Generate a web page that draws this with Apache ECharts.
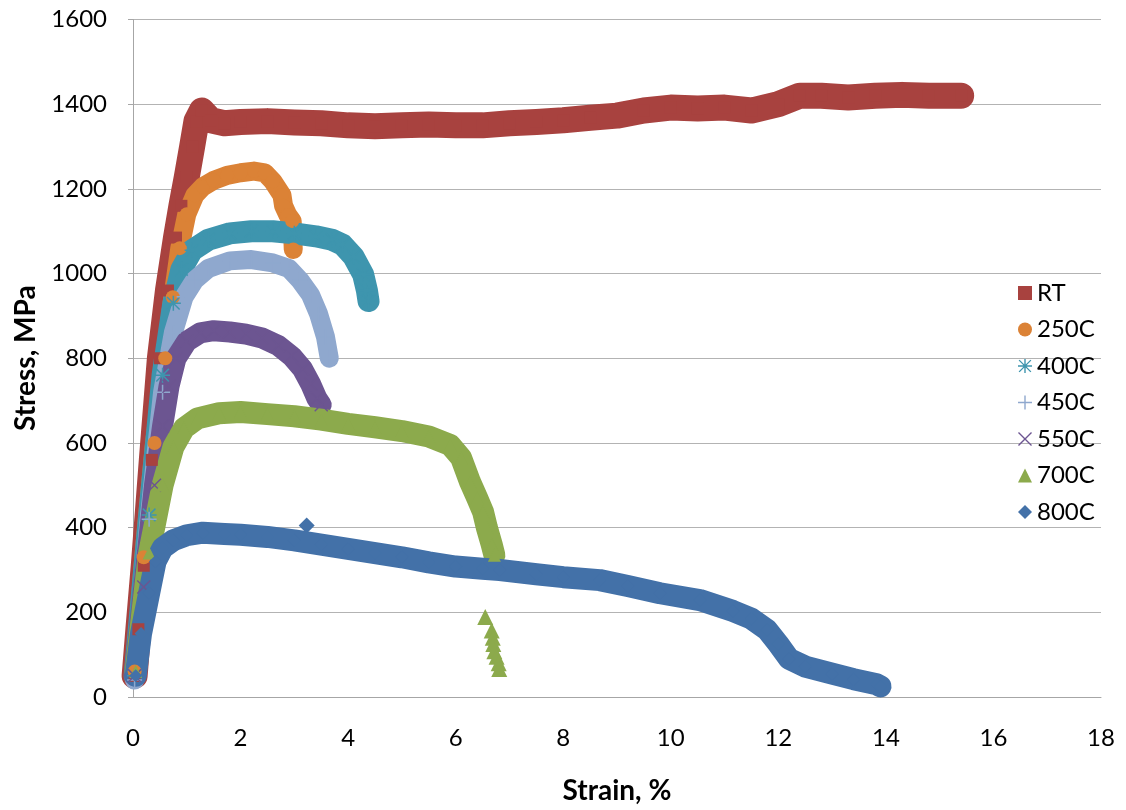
<!DOCTYPE html>
<html>
<head>
<meta charset="utf-8">
<script src="https://cdn.jsdelivr.net/npm/echarts@6/dist/echarts.min.js"></script>
<style>
  html, body { margin: 0; padding: 0; background: #fff; }
  #chart { width: 1126px; height: 810px; }
</style>
</head>
<body>
<div id="chart"></div>
<script>
// Tensile curves: [strain %, stress MPa]
const seriesNames = ['RT', '250C', '400C', '450C', '550C', '700C', '800C'];

const dataRT = [
  [0.03, 50], [0.1, 160], [0.2, 310], [0.35, 560], [0.5, 800], [0.65, 960], [0.8, 1085],
  [0.9, 1160], [1.0, 1228], [1.1, 1300], [1.18, 1360], [1.28, 1385], [1.45, 1362],
  [1.7, 1355], [2.0, 1358], [2.5, 1360], [3.0, 1357], [3.5, 1355], [4.0, 1350],
  [4.5, 1348], [5.0, 1350], [5.5, 1352], [6.0, 1350], [6.5, 1350], [7.0, 1355],
  [7.5, 1358], [8.0, 1362], [8.5, 1368], [9.0, 1373], [9.5, 1385], [10.0, 1392],
  [10.5, 1390], [11.0, 1392], [11.5, 1385], [12.0, 1400], [12.4, 1420], [12.8, 1420],
  [13.3, 1416], [13.8, 1420], [14.3, 1422], [14.8, 1420], [15.4, 1420]
];

const data250C = [
  [0.03, 60], [0.2, 330], [0.4, 600], [0.6, 800], [0.74, 944], [0.87, 1060], [1.0, 1140],
  [1.15, 1185], [1.3, 1205], [1.5, 1220], [1.75, 1232], [2.0, 1238], [2.25, 1242],
  [2.45, 1238], [2.6, 1218], [2.77, 1185], [2.8, 1160], [2.88, 1138], [2.96, 1124],
  [2.98, 1057]
];

const data400C = [
  [0.03, 50], [0.3, 430], [0.55, 760], [0.75, 930], [0.9, 1010], [1.1, 1055], [1.4, 1080],
  [1.8, 1095], [2.2, 1100], [2.6, 1100], [3.0, 1095], [3.4, 1088], [3.7, 1080],
  [3.9, 1068], [4.1, 1040], [4.28, 998], [4.35, 960], [4.38, 935]
];

const data450C = [
  [0.03, 40], [0.3, 420], [0.55, 720], [0.75, 860], [0.95, 945], [1.15, 985], [1.4, 1012],
  [1.8, 1030], [2.2, 1033], [2.6, 1025], [2.9, 1012], [3.1, 985], [3.3, 950],
  [3.45, 905], [3.58, 850], [3.65, 800]
];

const data550C = [
  [0.03, 50], [0.2, 260], [0.4, 500], [0.55, 640], [0.67, 734], [0.8, 800], [1.0, 840],
  [1.25, 860], [1.5, 865], [1.8, 862], [2.1, 857], [2.4, 848], [2.7, 830], [2.95, 805],
  [3.15, 775], [3.3, 740], [3.42, 705], [3.5, 690]
];

const data700C = [
  [0.05, 60], [0.3, 340], [0.55, 500], [0.75, 590], [0.95, 635], [1.2, 658], [1.6, 670],
  [2.0, 673], [2.5, 668], [3.0, 663], [3.5, 655], [4.0, 645], [4.5, 637], [5.0, 628],
  [5.5, 615], [5.9, 595], [6.1, 565], [6.27, 507], [6.4, 470], [6.51, 437], [6.58, 400],
  [6.67, 360], [6.72, 335]
];
// scattered 700C readings after fracture
const stray700C = [
  [6.55, 189], [6.67, 157], [6.69, 140], [6.7, 125], [6.72, 108], [6.76, 95], [6.8, 80], [6.81, 66]
];

const data800C = [
  [0.05, 50], [0.15, 150], [0.3, 245], [0.42, 320], [0.55, 352], [0.75, 370], [1.0, 382],
  [1.3, 388], [1.7, 385], [2.0, 383], [2.5, 378], [3.0, 370], [3.5, 360], [4.0, 350],
  [4.5, 340], [5.0, 330], [5.5, 318], [6.0, 308], [6.5, 303], [6.82, 300], [7.5, 290],
  [8.0, 283], [8.68, 276], [9.2, 262], [9.8, 245], [10.54, 229], [11.16, 203],
  [11.5, 185], [11.79, 159], [12.0, 125], [12.2, 90], [12.5, 72], [13.0, 55],
  [13.4, 42], [13.83, 30], [13.9, 25]
];
const stray800C = [[3.23, 405]];

const xTicks = { min: 0, max: 18, interval: 2 };
const yTicks = { min: 0, max: 1600, interval: 200 };

const colors = {
  RT: '#A8423F', '250C': '#DB8236', '400C': '#3E95AE', '450C': '#8FA8CE',
  '550C': '#6C5591', '700C': '#8CAA4C', '800C': '#4371A8'
};

const PLUS = 'path://M9,0h2v20h-2z M0,9h20v2h-20z';
const CROSS = 'path://M1.4,0L20,18.6L18.6,20L0,1.4z M18.6,0L20,1.4L1.4,20L0,18.6z';
const STAR = 'path://M9,0h2v20h-2z M0,9h20v2h-20z M2.3,0.9L19.1,17.7L17.7,19.1L0.9,2.3z M17.7,0.9L19.1,2.3L2.3,19.1L0.9,17.7z';

const style = {
  RT:     { symbol: 'rect', size: 12, width: 26, icon: 'rect' },
  '250C': { symbol: 'circle', size: 14, width: 19, icon: 'circle' },
  '400C': { symbol: STAR, size: 15, width: 22, icon: STAR },
  '450C': { symbol: PLUS, size: 15, width: 19, icon: PLUS },
  '550C': { symbol: CROSS, size: 14, width: 21, icon: CROSS },
  '700C': { symbol: 'triangle', size: 13, width: 22, icon: 'triangle' },
  '800C': { symbol: 'diamond', size: 13, width: 22, icon: 'diamond' }
};

const seriesData = {
  RT: dataRT, '250C': data250C, '400C': data400C, '450C': data450C,
  '550C': data550C, '700C': data700C, '800C': data800C
};
const strayData = { '700C': stray700C, '800C': stray800C };

const FONT = 'Lato, "Open Sans", sans-serif';

const series = [];
seriesNames.forEach(name => {
  series.push({
    name,
    type: 'line',
    data: seriesData[name],
    symbol: style[name].symbol,
    symbolSize: style[name].size,
    showSymbol: true,
    itemStyle: { color: colors[name], opacity: 1 },
    lineStyle: { color: colors[name], width: style[name].width, cap: 'round', join: 'round' },
    animation: false,
    emphasis: { disabled: true }
  });
  if (strayData[name]) {
    series.push({
      name,
      type: 'scatter',
      data: strayData[name],
      symbol: style[name].symbol,
      symbolSize: 16,
      itemStyle: { color: colors[name], opacity: 1 },
      animation: false,
      emphasis: { disabled: true }
    });
  }
});

const chart = echarts.init(document.getElementById('chart'), null, { renderer: 'canvas' });
chart.setOption({
  backgroundColor: '#ffffff',
  textStyle: { fontFamily: FONT },
  grid: { left: 133, right: 25, top: 19.5, bottom: 106, containLabel: false },
  legend: {
    orient: 'vertical',
    left: 1013,
    top: 276,
    itemWidth: 14,
    itemHeight: 14,
    itemGap: 12.5,
    textStyle: { fontFamily: FONT, fontSize: 24, color: '#000' },
    data: seriesNames.map(name => ({ name, icon: style[name].icon }))
  },
  xAxis: {
    type: 'value',
    min: xTicks.min, max: xTicks.max, interval: xTicks.interval,
    name: 'Strain, %',
    nameLocation: 'middle',
    nameGap: 80,
    nameTextStyle: { fontFamily: FONT, fontSize: 28, fontWeight: 'bold', color: '#000' },
    axisLine: { show: true, lineStyle: { color: '#a6a6a6', width: 1 } },
    axisTick: { show: false },
    axisLabel: { fontFamily: FONT, fontSize: 24, color: '#000', margin: 29 },
    splitLine: { show: false }
  },
  yAxis: {
    type: 'value',
    min: yTicks.min, max: yTicks.max, interval: yTicks.interval,
    name: 'Stress, MPa',
    nameLocation: 'middle',
    nameRotate: 90,
    nameGap: 90,
    nameTextStyle: { fontFamily: FONT, fontSize: 28, fontWeight: 'bold', color: '#000' },
    axisLine: { show: true, lineStyle: { color: '#a6a6a6', width: 1 } },
    axisTick: { show: true, length: 5, inside: false, lineStyle: { color: '#a6a6a6' } },
    axisLabel: {
      fontFamily: FONT, fontSize: 24, color: '#000', margin: 26,
      formatter: v => String(v)
    },
    splitLine: { show: true, lineStyle: { color: '#b3b3b3', width: 1 } }
  },
  series
});
</script>
</body>
</html>
